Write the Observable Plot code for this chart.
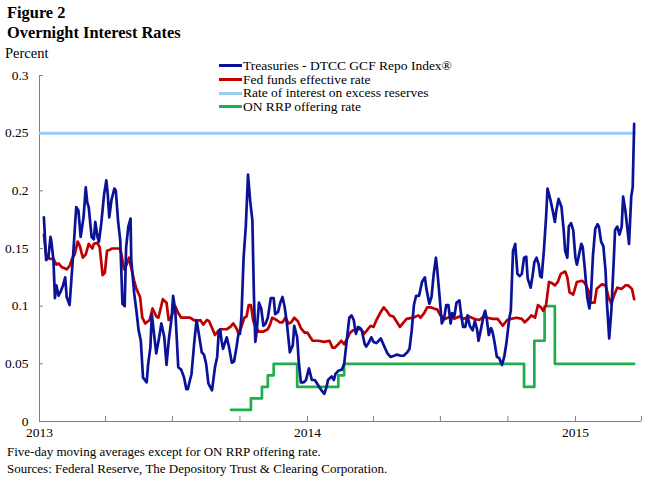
<!DOCTYPE html>
<html>
<head>
<meta charset="utf-8">
<script src="https://cdn.jsdelivr.net/npm/d3@7"></script>
<script src="https://cdn.jsdelivr.net/npm/@observablehq/plot@0.6"></script>
<style>
  html, body { margin: 0; padding: 0; background: #fff; }
  body { width: 660px; height: 495px; position: relative; overflow: hidden; font-family: "Liberation Serif", "Times New Roman", serif; color: #000; }
  .abs { position: absolute; white-space: nowrap; }
  .t1 { left: 7px; top: 3px; font-weight: bold; font-size: 16.4px; }
  .t2 { left: 7px; top: 23px; font-weight: bold; font-size: 16.4px; }
  .unit { left: 5px; top: 45px; font-size: 14.5px; }
  #chart { position: absolute; left: 0; top: 62px; }
  .legend { left: 219px; top: 59px; font-size: 13.5px; line-height: 13.7px; }
  .legend div { display: flex; align-items: center; height: 13.7px; }
  .legend span.sw { display: inline-block; width: 23px; height: 3px; margin-right: 1px; }
  .cap { left: 7px; font-size: 13px; }
</style>
</head>
<body>
<div class="abs t1">Figure 2</div>
<div class="abs t2">Overnight Interest Rates</div>
<div class="abs unit">Percent</div>
<div id="chart"></div>
<div class="abs legend" id="legend"></div>
<div class="abs cap" style="top:444px">Five-day moving averages except for ON RRP offering rate.</div>
<div class="abs cap" style="top:461px">Sources: Federal Reserve, The Depository Trust &amp; Clearing Corporation.</div>
<script>
// Series names and colours
const seriesNames = ["Treasuries - DTCC GCF Repo Index®", "Fed funds effective rate", "Rate of interest on excess reserves", "ON RRP offering rate"];
const seriesColors = ["#0a1398", "#c00000", "#9dc9f5", "#1fae4b"];

// Treasuries - DTCC GCF Repo Index (5-day MA)
const repo = [
["2013-01-07",.177],["2013-01-10",.140],["2013-01-13",.142],["2013-01-16",.160],["2013-01-17",.157],["2013-01-20",.140],["2013-01-22",.107],["2013-01-24",.118],["2013-01-27",.109],["2013-01-30",.113],["2013-02-02",.118],["2013-02-05",.125],["2013-02-07",.108],["2013-02-11",.101],["2013-02-16",.146],["2013-02-20",.186],["2013-02-23",.183],["2013-02-26",.160],["2013-03-02",.177],["2013-03-05",.203],["2013-03-07",.190],["2013-03-09",.186],["2013-03-13",.160],["2013-03-16",.158],["2013-03-18",.173],["2013-03-21",.160],["2013-03-23",.156],["2013-03-26",.171],["2013-03-30",.197],["2013-04-02",.209],["2013-04-04",.197],["2013-04-06",.177],["2013-04-09",.192],["2013-04-13",.202],["2013-04-15",.200],["2013-04-18",.174],["2013-04-21",.157],["2013-04-24",.102],["2013-04-27",.100],["2013-04-29",.151],["2013-05-02",.169],["2013-05-05",.176],["2013-05-06",.140],["2013-05-10",.111],["2013-05-13",.096],["2013-05-16",.079],["2013-05-19",.070],["2013-05-22",.038],["2013-05-27",.034],["2013-05-29",.050],["2013-06-01",.064],["2013-06-03",.093],["2013-06-06",.076],["2013-06-09",.059],["2013-06-13",.073],["2013-06-16",.085],["2013-06-20",.073],["2013-06-23",.049],["2013-06-26",.070],["2013-06-30",.090],["2013-07-02",.109],["2013-07-05",.096],["2013-07-09",.047],["2013-07-13",.045],["2013-07-17",.038],["2013-07-20",.028],["2013-07-22",.028],["2013-07-25",.036],["2013-07-27",.041],["2013-07-31",.070],["2013-08-03",.088],["2013-08-06",.076],["2013-08-10",.060],["2013-08-13",.058],["2013-08-16",.050],["2013-08-19",.033],["2013-08-24",.027],["2013-08-28",.047],["2013-08-31",.056],["2013-09-02",.076],["2013-09-04",.080],["2013-09-06",.070],["2013-09-08",.063],["2013-09-11",.069],["2013-09-13",.073],["2013-09-16",.065],["2013-09-20",.051],["2013-09-23",.052],["2013-09-26",.063],["2013-09-29",.076],["2013-10-01",.076],["2013-10-03",.090],["2013-10-06",.142],["2013-10-09",.169],["2013-10-12",.214],["2013-10-15",.191],["2013-10-18",.174],["2013-10-20",.111],["2013-10-22",.069],["2013-10-24",.079],["2013-10-27",.103],["2013-10-30",.098],["2013-11-02",.083],["2013-11-05",.085],["2013-11-08",.090],["2013-11-12",.107],["2013-11-16",.107],["2013-11-18",.093],["2013-11-22",.095],["2013-11-25",.103],["2013-11-28",.108],["2013-12-01",.099],["2013-12-04",.085],["2013-12-08",.060],["2013-12-12",.066],["2013-12-14",.083],["2013-12-18",.073],["2013-12-20",.053],["2013-12-23",.034],["2013-12-27",.034],["2013-12-30",.036],["2014-01-03",.046],["2014-01-07",.036],["2014-01-11",.036],["2014-01-16",.031],["2014-01-20",.027],["2014-01-24",.024],["2014-01-27",.030],["2014-01-29",.036],["2014-02-03",.039],["2014-02-06",.036],["2014-02-08",.041],["2014-02-12",.044],["2014-02-17",.045],["2014-02-20",.050],["2014-02-24",.073],["2014-02-27",.090],["2014-03-02",.092],["2014-03-05",.088],["2014-03-08",.076],["2014-03-11",.082],["2014-03-14",.081],["2014-03-16",.079],["2014-03-20",.067],["2014-03-22",.065],["2014-03-26",.069],["2014-03-29",.073],["2014-04-01",.069],["2014-04-05",.068],["2014-04-08",.070],["2014-04-11",.072],["2014-04-15",.066],["2014-04-20",.059],["2014-04-24",.056],["2014-04-29",.057],["2014-05-03",.058],["2014-05-08",.057],["2014-05-12",.057],["2014-05-17",.060],["2014-05-20",.063],["2014-05-23",.079],["2014-05-26",.101],["2014-05-29",.109],["2014-06-02",.109],["2014-06-06",.121],["2014-06-10",.125],["2014-06-12",.115],["2014-06-16",.102],["2014-06-19",.108],["2014-06-22",.128],["2014-06-25",.142],["2014-06-27",.130],["2014-06-30",.108],["2014-07-03",.085],["2014-07-06",.089],["2014-07-09",.101],["2014-07-12",.101],["2014-07-15",.085],["2014-07-17",.094],["2014-07-20",.091],["2014-07-23",.103],["2014-07-27",.105],["2014-07-29",.094],["2014-08-01",.082],["2014-08-04",.082],["2014-08-07",.092],["2014-08-10",.083],["2014-08-14",.079],["2014-08-17",.087],["2014-08-20",.080],["2014-08-22",.070],["2014-08-25",.079],["2014-08-29",.092],["2014-08-31",.096],["2014-09-02",.090],["2014-09-05",.075],["2014-09-08",.081],["2014-09-10",.078],["2014-09-13",.068],["2014-09-16",.056],["2014-09-19",.055],["2014-09-23",.049],["2014-09-26",.056],["2014-09-29",.068],["2014-10-03",.090],["2014-10-05",.096],["2014-10-08",.148],["2014-10-11",.154],["2014-10-14",.128],["2014-10-17",.126],["2014-10-20",.128],["2014-10-23",.142],["2014-10-26",.143],["2014-10-28",.124],["2014-11-01",.116],["2014-11-04",.128],["2014-11-06",.138],["2014-11-09",.142],["2014-11-12",.136],["2014-11-14",.126],["2014-11-16",.125],["2014-11-19",.148],["2014-11-22",.177],["2014-11-24",.202],["2014-11-28",.192],["2014-12-01",.183],["2014-12-04",.173],["2014-12-06",.183],["2014-12-09",.193],["2014-12-13",.186],["2014-12-16",.166],["2014-12-18",.148],["2014-12-21",.142],["2014-12-23",.169],["2014-12-26",.172],["2014-12-29",.166],["2015-01-01",.142],["2015-01-03",.136],["2015-01-06",.145],["2015-01-09",.154],["2015-01-11",.151],["2015-01-14",.131],["2015-01-17",.108],["2015-01-20",.098],["2015-01-22",.108],["2015-01-25",.145],["2015-01-28",.167],["2015-01-31",.171],["2015-02-02",.169],["2015-02-05",.156],["2015-02-08",.152],["2015-02-11",.131],["2015-02-13",.102],["2015-02-16",.072],["2015-02-19",.097],["2015-02-22",.137],["2015-02-24",.166],["2015-02-27",.169],["2015-03-02",.162],["2015-03-05",.169],["2015-03-07",.195],["2015-03-10",.183],["2015-03-13",.166],["2015-03-15",.154],["2015-03-18",.195],["2015-03-20",.203],["2015-03-22",.258]
];

// Fed funds effective rate (5-day MA)
const fedFunds = [
["2013-01-07",.162],["2013-01-10",.144],["2013-01-15",.141],["2013-01-20",.141],["2013-01-24",.136],["2013-01-27",.137],["2013-01-31",.134],["2013-02-07",.132],["2013-02-11",.135],["2013-02-15",.142],["2013-02-18",.145],["2013-02-22",.156],["2013-02-25",.152],["2013-03-01",.142],["2013-03-05",.145],["2013-03-09",.154],["2013-03-14",.150],["2013-03-16",.154],["2013-03-21",.155],["2013-03-24",.151],["2013-03-28",.127],["2013-03-31",.129],["2013-04-03",.148],["2013-04-07",.149],["2013-04-10",.150],["2013-04-20",.150],["2013-04-22",.147],["2013-04-26",.132],["2013-04-29",.135],["2013-05-03",.142],["2013-05-06",.133],["2013-05-10",.122],["2013-05-13",.115],["2013-05-18",.108],["2013-05-21",.090],["2013-05-25",.085],["2013-05-31",.088],["2013-06-04",.098],["2013-06-09",.091],["2013-06-12",.090],["2013-06-18",.106],["2013-06-23",.103],["2013-06-26",.088],["2013-06-29",.090],["2013-07-05",.100],["2013-07-09",.094],["2013-07-13",.090],["2013-07-22",.090],["2013-07-25",.090],["2013-07-30",.088],["2013-08-03",.087],["2013-08-08",.088],["2013-08-12",.084],["2013-08-17",.088],["2013-08-20",.087],["2013-08-24",.081],["2013-08-28",.075],["2013-09-02",.079],["2013-09-06",.080],["2013-09-13",.080],["2013-09-18",.082],["2013-09-22",.085],["2013-09-27",.080],["2013-09-29",.076],["2013-10-03",.082],["2013-10-07",.090],["2013-10-10",.091],["2013-10-13",.101],["2013-10-16",.101],["2013-10-19",.088],["2013-10-22",.082],["2013-10-27",.078],["2013-11-02",.078],["2013-11-08",.080],["2013-11-11",.084],["2013-11-14",.090],["2013-11-20",.088],["2013-11-24",.086],["2013-11-28",.086],["2013-12-02",.090],["2013-12-06",.085],["2013-12-10",.086],["2013-12-14",.090],["2013-12-19",.087],["2013-12-23",.081],["2013-12-28",.077],["2014-01-01",.077],["2014-01-04",.074],["2014-01-08",.070],["2014-01-16",.070],["2014-01-24",.069],["2014-01-31",.070],["2014-02-04",.064],["2014-02-07",.064],["2014-02-12",.067],["2014-02-16",.070],["2014-02-20",.067],["2014-02-25",.073],["2014-02-28",.077],["2014-03-04",.079],["2014-03-10",.080],["2014-03-15",.080],["2014-03-19",.076],["2014-03-23",.079],["2014-03-28",.083],["2014-04-01",.082],["2014-04-05",.088],["2014-04-10",.094],["2014-04-15",.099],["2014-04-19",.096],["2014-04-23",.092],["2014-04-28",.091],["2014-05-03",.086],["2014-05-07",.082],["2014-05-12",.086],["2014-05-16",.089],["2014-05-25",.090],["2014-06-01",.092],["2014-06-04",.090],["2014-06-09",.094],["2014-06-13",.099],["2014-06-18",.099],["2014-06-22",.098],["2014-06-27",.097],["2014-07-01",.092],["2014-07-08",.089],["2014-07-15",.091],["2014-07-20",.089],["2014-07-27",.091],["2014-08-02",.089],["2014-08-09",.091],["2014-08-16",.089],["2014-08-23",.088],["2014-08-29",.091],["2014-09-03",.090],["2014-09-10",.089],["2014-09-17",.089],["2014-09-24",.083],["2014-09-30",.088],["2014-10-05",.089],["2014-10-13",.090],["2014-10-20",.089],["2014-10-24",.086],["2014-10-29",.089],["2014-11-02",.092],["2014-11-07",.090],["2014-11-11",.101],["2014-11-15",.099],["2014-11-18",.096],["2014-11-22",.101],["2014-11-26",.121],["2014-11-30",.120],["2014-12-04",.118],["2014-12-08",.121],["2014-12-12",.128],["2014-12-18",.130],["2014-12-21",.125],["2014-12-24",.112],["2014-12-29",.110],["2015-01-03",.121],["2015-01-10",.122],["2015-01-14",.120],["2015-01-19",.113],["2015-01-21",.103],["2015-01-27",.103],["2015-01-30",.115],["2015-02-06",.119],["2015-02-11",.118],["2015-02-15",.108],["2015-02-19",.102],["2015-02-23",.110],["2015-02-27",.116],["2015-03-05",.115],["2015-03-10",.118],["2015-03-14",.118],["2015-03-19",.115],["2015-03-22",.106]
];

// Rate of interest on excess reserves
const ioer = [["2013-01-02",.25],["2015-03-22",.25]];

// ON RRP offering rate (step changes)
const onrrp = [
["2013-09-19",.01],["2013-10-16",.02],["2013-10-31",.03],["2013-11-08",.04],["2013-11-16",.05],["2013-12-18",.03],["2014-02-12",.04],["2014-02-20",.05],["2014-10-23",.03],["2014-11-06",.07],["2014-11-20",.10],["2014-12-04",.05],["2015-03-22",.05]
];

// Axis ticks
const yTicks = [0, 0.05, 0.1, 0.15, 0.2, 0.25, 0.3];
const yTickLabels = ["0", "0.05", "0.1", "0.15", "0.2", "0.25", "0.3"];
const xQuarterTicks = ["2013-01-01","2013-04-01","2013-07-01","2013-10-01","2014-01-01","2014-04-01","2014-07-01","2014-10-01","2015-01-01","2015-04-01"];
const xYearTicks = ["2013-01-01","2014-01-01","2015-01-01"];
const xYearLabels = ["2013","2014","2015"];
const xDomain = ["2013-01-01","2015-04-01"];

const P = d => new Date(d + "T00:00:00Z");
const toRows = arr => arr.map(([d, v]) => ({date: P(d), value: v}));
const axisColor = "#808080";

const chart = Plot.plot({
  width: 660,
  height: 384,
  marginLeft: 39,
  marginRight: 19,
  marginTop: 13,
  marginBottom: 25,
  style: {fontFamily: "'Liberation Serif', 'Times New Roman', serif", fontSize: "13.5px", color: "#000", background: "#fff"},
  x: {type: "utc", domain: xDomain.map(P), label: null},
  y: {domain: [0, 0.3], label: null},
  marks: [
    // axis lines
    Plot.ruleY([0], {stroke: axisColor, strokeWidth: 1}),
    Plot.ruleX([P(xDomain[0])], {stroke: axisColor, strokeWidth: 1}),
    // inward ticks
    Plot.axisX({ticks: xQuarterTicks.map(P), tickSize: 5, dy: -5, tickFormat: () => "", stroke: axisColor, label: null}),
    Plot.axisY({ticks: yTicks, tickSize: 4, dx: 4, tickFormat: () => "", stroke: axisColor, label: null}),
    // labels
    Plot.axisX({ticks: xYearTicks.map(P), tickSize: 0, tickPadding: 6, tickFormat: d => xYearLabels[xYearTicks.map(P).findIndex(t => +t === +d)], fill: "#000", label: null}),
    Plot.axisY({ticks: yTicks, tickSize: 0, tickPadding: 11, tickFormat: d => yTickLabels[yTicks.indexOf(d)], fill: "#000", label: null}),
    // series
    Plot.line(toRows(ioer), {x: "date", y: "value", stroke: seriesColors[2], strokeWidth: 3}),
    Plot.line(toRows(onrrp), {x: "date", y: "value", stroke: seriesColors[3], strokeWidth: 2.7, curve: "step-after"}),
    Plot.line(toRows(fedFunds), {x: "date", y: "value", stroke: seriesColors[1], strokeWidth: 2.7, strokeLinejoin: "round"}),
    Plot.line(toRows(repo), {x: "date", y: "value", stroke: seriesColors[0], strokeWidth: 2.7, strokeLinejoin: "round"})
  ]
});
document.getElementById("chart").appendChild(chart);

const legend = document.getElementById("legend");
seriesNames.forEach((name, i) => {
  const row = document.createElement("div");
  const sw = document.createElement("span");
  sw.className = "sw";
  sw.style.background = seriesColors[i];
  row.appendChild(sw);
  row.appendChild(document.createTextNode(name));
  legend.appendChild(row);
});
</script>
</body>
</html>
